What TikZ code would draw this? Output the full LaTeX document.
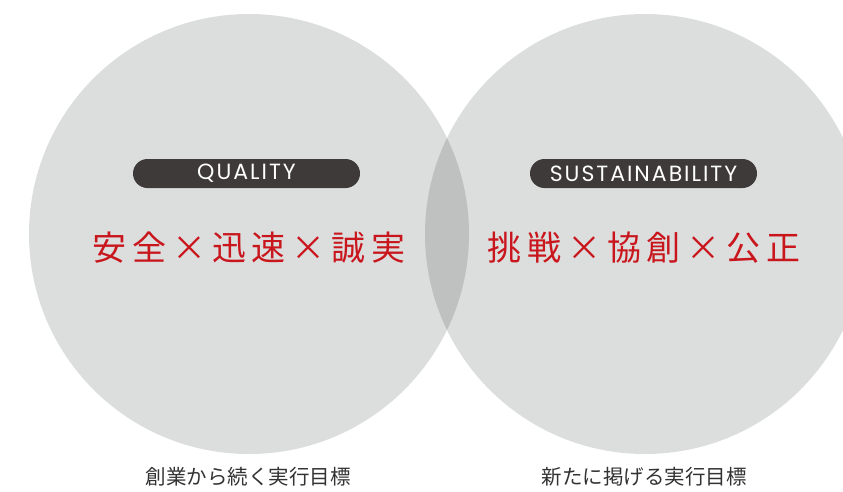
\documentclass[tikz,border=0pt]{standalone}
\usepackage{fontspec}
\newfontfamily\jpfont{Noto Sans CJK JP}
\newfontfamily\redfont[LetterSpace=17]{Noto Sans CJK JP}
\newfontfamily\labelfont[LetterSpace=9]{Poppins}
\definecolor{circlegray}{HTML}{DCDDDD}
\definecolor{lensgray}{HTML}{BFC0C0}
\definecolor{pilldark}{HTML}{3E3A39}
\definecolor{valuered}{HTML}{C9161D}
\definecolor{captiongray}{HTML}{333333}
\begin{document}
\begin{tikzpicture}[x=1pt,y=-1pt,
  bigcircle/.style={circle, fill=circlegray, minimum size=440pt, inner sep=0pt},
  pill/.style={fill=pilldark, rounded corners=14.5pt, minimum width=227pt, minimum height=29pt, inner sep=0pt, text=white, font=\labelfont\fontsize{22}{22}\selectfont},
  valtext/.style={anchor=base, inner sep=0pt, text=valuered, font=\redfont\fontsize{34}{34}\selectfont},
  caption/.style={anchor=base, inner sep=0pt, text=captiongray, font=\jpfont\fontsize{20.5}{20.5}\selectfont}]
\useasboundingbox (0,0) rectangle (843,491);
\node[bigcircle] (qc) at (249,234) {};
\node[bigcircle] (sc) at (645,234) {};
\begin{scope}
  \clip (249,234) circle (220pt);
  \fill[lensgray] (645,234) circle (220pt);
\end{scope}
\node[pill] (qp) at (246.5,173.5) {QUALITY};
\node[pill] (sp) at (643.5,173.5) {SUSTAINABILITY};
\node[valtext] (qv) at (249,260) {安全×迅速×誠実};
\node[valtext] (sv) at (644,260) {挑戦×協創×公正};
\node[caption] (qcap) at (248,484.5) {創業から続く実行目標};
\node[caption] (scap) at (644,484.5) {新たに掲げる実行目標};
\end{tikzpicture}
\end{document}
